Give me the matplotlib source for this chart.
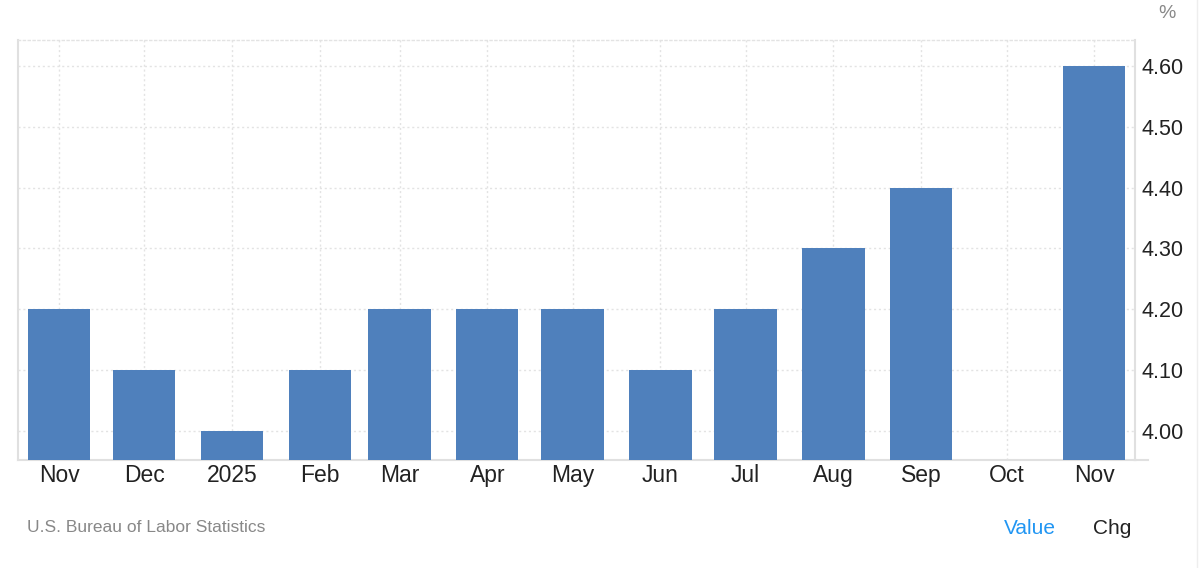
import matplotlib
matplotlib.use("Agg")
import matplotlib.pyplot as plt
import matplotlib.dates as mdates
from matplotlib.lines import Line2D
import numpy as np
import datetime as dt

months = ["2024-11-01", "2024-12-01", "2025-01-01", "2025-02-01", "2025-03-01", "2025-04-01",
          "2025-05-01", "2025-06-01", "2025-07-01", "2025-08-01", "2025-09-01", "2025-10-01",
          "2025-11-01"]
tick_labels = ["Nov", "Dec", "2025", "Feb", "Mar", "Apr", "May", "Jun", "Jul", "Aug", "Sep", "Oct", "Nov"]
values = [4.2, 4.1, 4.0, 4.1, 4.2, 4.2, 4.2, 4.1, 4.2, 4.3, 4.4, np.nan, 4.6]
y_ticks = [4.0, 4.1, 4.2, 4.3, 4.4, 4.5, 4.6]

plt.rcParams['font.family'] = ['Liberation Sans', 'DejaVu Sans']

W, H = 1204, 568
fig = plt.figure(figsize=(W / 100, H / 100), dpi=100)
ax = fig.add_axes([18 / W, (H - 460) / H, (1135 - 18) / W, (460 - 40) / H])

dates = [dt.datetime.strptime(m, "%Y-%m-%d") for m in months]
x = mdates.date2num(dates)
vals = np.array(values, dtype=float)
mask = ~np.isnan(vals)
ax.bar(x[mask], vals[mask], width=21.9, color="#4f80bc", zorder=3)

ax.set_xlim(x[0] - 14.5, x[-1] + 14.3)
ax.set_ylim(3.952, 4.643)

ax.set_xticks(x)
ax.set_xticklabels(tick_labels, fontsize=16.5, color="#222222")
ax.set_yticks(y_ticks)
ax.set_yticklabels([f"{v:.2f}" for v in y_ticks], fontsize=15.5, color="#222222")
ax.yaxis.tick_right()
ax.tick_params(axis="both", length=0)
ax.tick_params(axis="x", pad=3)
ax.tick_params(axis="y", pad=5)

ax.grid(True, color="#e3e3e3", linestyle=(0, (1.5, 2)), linewidth=1, zorder=0)

for s in ["left", "bottom", "right"]:
    ax.spines[s].set_color("#e0e0e0")
    ax.spines[s].set_linewidth(1.5)
ax.spines["top"].set_color("#e3e3e3")
ax.spines["top"].set_linestyle((0, (1.5, 2)))
ax.spines["top"].set_linewidth(1)

# bottom axis extension beyond right spine
fig.add_artist(Line2D([1135 / W, 1148 / W], [(H - 460) / H, (H - 460) / H],
                      color="#e0e0e0", linewidth=1.5))
# outer right border
fig.add_artist(Line2D([1197 / W, 1197 / W], [0, 1], color="#eeeeee", linewidth=1))

fig.text(1167 / W, (H - 14) / H, "%", fontsize=14, color="#888888", ha="center", va="center")
fig.text(27 / W, (H - 527) / H, "U.S. Bureau of Labor Statistics", fontsize=12.5,
         color="#888888", ha="left", va="center")
fig.text(1030 / W, (H - 528) / H, "Value", fontsize=15, color="#2196f3", ha="center", va="center")
fig.text(1112 / W, (H - 528) / H, "Chg", fontsize=15, color="#222222", ha="center", va="center")

fig.savefig("out.png", dpi=100)
